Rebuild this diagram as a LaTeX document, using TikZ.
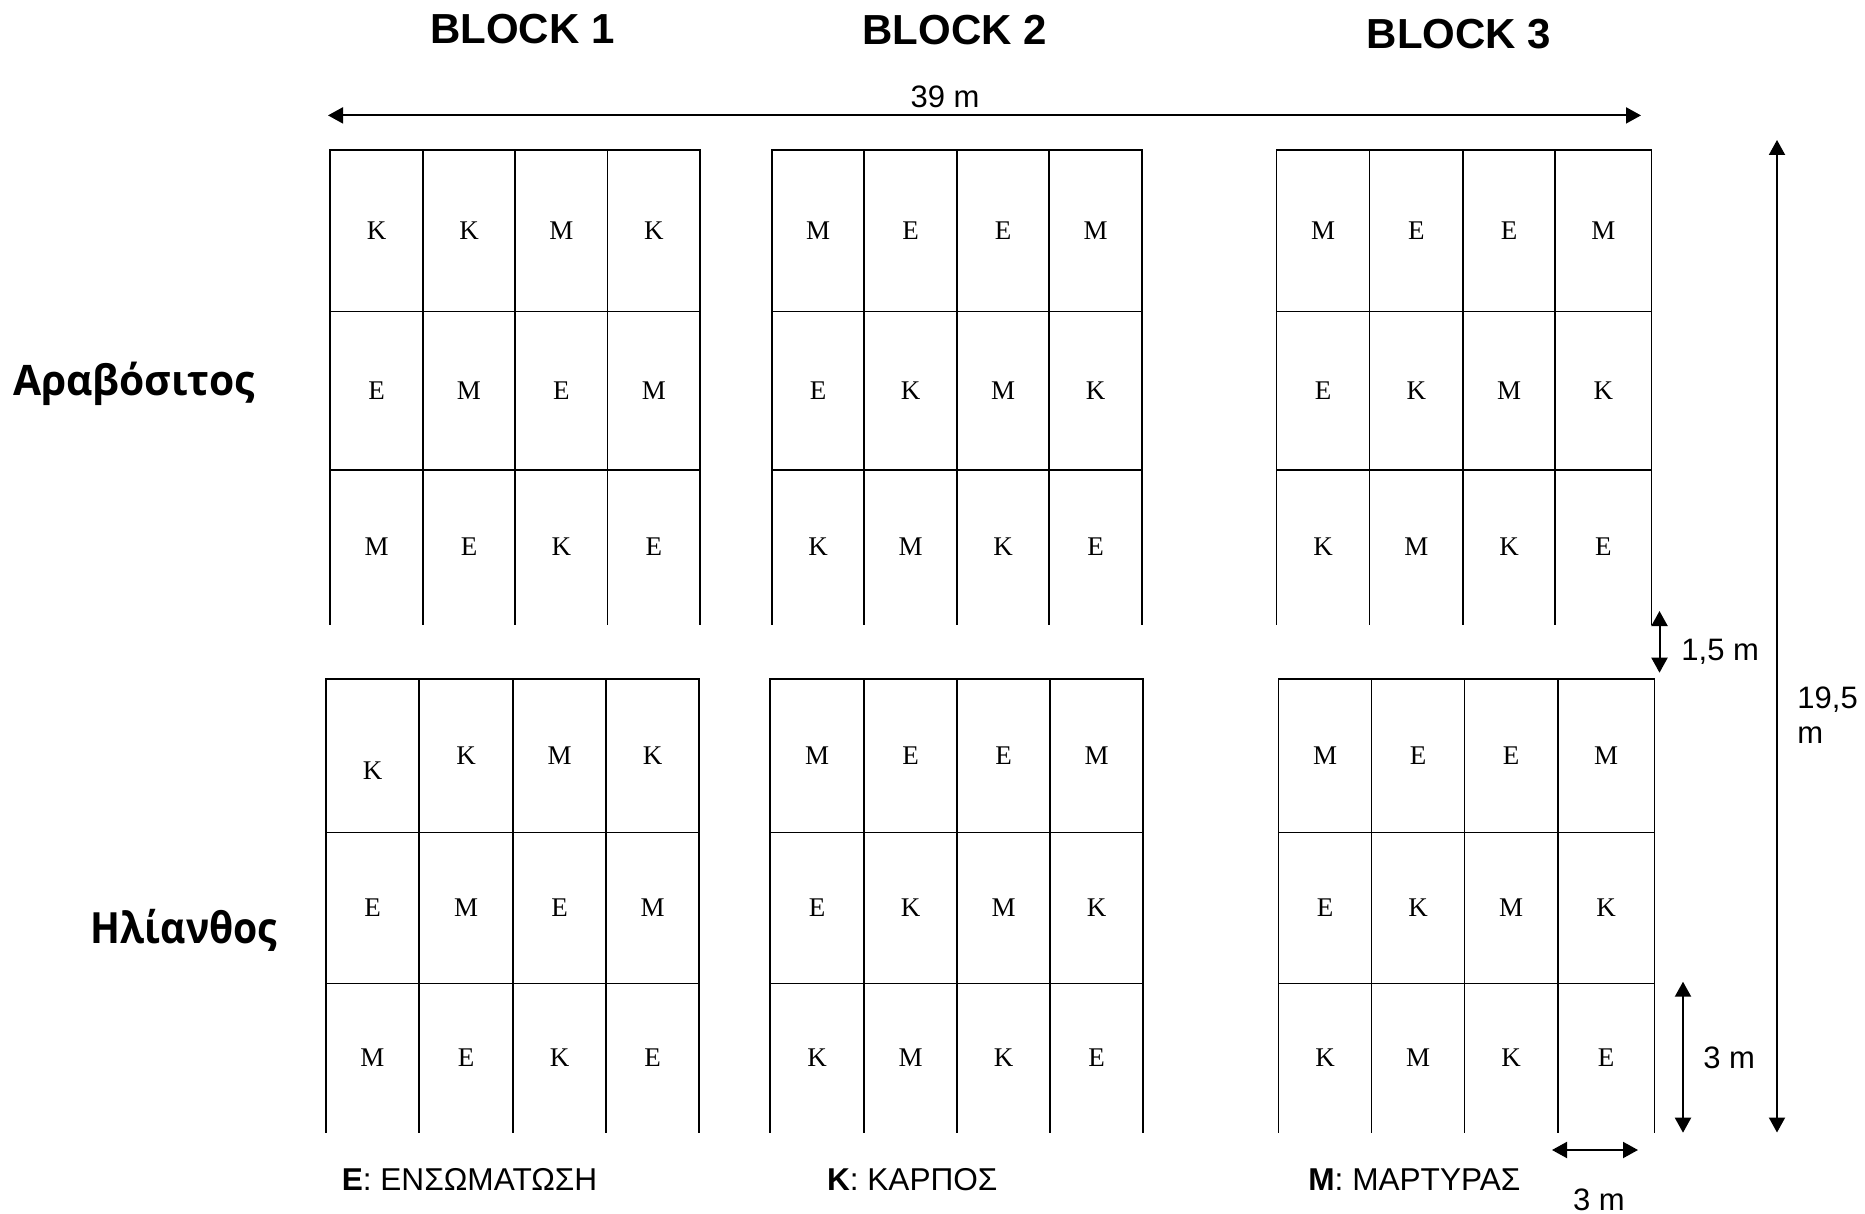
\documentclass[tikz,border=0pt]{standalone}
\usepackage{fontspec}
\setmainfont{Liberation Sans}
\newfontfamily\timesf{Liberation Serif}
\newfontfamily\opensansA{Open Sans}[FakeStretch=0.97]
\newfontfamily\opensansB{Open Sans}[FakeStretch=0.91]
\usetikzlibrary{arrows.meta}
\tikzset{
  gridline/.style={line width=0.75pt, line cap=rect},
  cellletter/.style={inner sep=0pt, font=\timesf\fontsize{13.5}{16}\selectfont},
  blocktitle/.style={inner sep=0pt, anchor=base, font=\bfseries\fontsize{21}{25}\selectfont},
  croplabel/.style={inner sep=0pt, anchor=base},
  dimtext/.style={inner sep=0pt, font=\fontsize{15.5}{18}\selectfont},
  legendtext/.style={inner sep=0pt, anchor=base west, font=\fontsize{15.8}{18}\selectfont},
  dimarrow/.style={line width=1pt, {Triangle[length=7.5pt,width=8pt]}-{Triangle[length=7.5pt,width=8pt]}},
}
% #1-#5: column x, #6 top, #7 row line 1, #8 row line 2, #9 open bottom
\newcommand{\plotgrid}[9]{%
  \draw[gridline] (#1,#9) -- (#1,#6) -- (#5,#6) -- (#5,#9);
  \draw[gridline] (#2,#6) -- (#2,#9) (#3,#6) -- (#3,#9) (#4,#6) -- (#4,#9);
  \draw[gridline] (#1,#7) -- (#5,#7) (#1,#8) -- (#5,#8);
}
\begin{document}
\begin{tikzpicture}[x=0.5pt,y=-0.5pt]
\useasboundingbox (0,0) rectangle (1865,1214);

% titles
\node[blocktitle] (b1) at (522.5,43.3) {BLOCK 1};
\node[blocktitle] (b2) at (954.7,45) {BLOCK 2};
\node[blocktitle] (b3) at (1459,48.3) {BLOCK 3};

% crop labels
\node[croplabel, font=\opensansA\bfseries\fontsize{21}{25}\selectfont] (corn) at (134,395) {Αραβόσιτος};
\node[croplabel, font=\opensansB\bfseries\fontsize{21.5}{25}\selectfont] (sun) at (184,943.3) {Ηλίανθος};

% grids, upper (corn)
\plotgrid{330}{423}{515}{607.7}{700}{150}{311.7}{470}{624.3}
\plotgrid{772}{864}{957}{1049}{1142}{150}{311.7}{470}{624.3}
\plotgrid{1276.5}{1369.6}{1463}{1555}{1651.5}{150}{311.7}{470}{624.3}
% grids, lower (sunflower)
\plotgrid{326}{419}{513}{606}{699}{679}{832.6}{983.6}{1132.7}
\plotgrid{770}{864}{957}{1050}{1143}{679}{832.6}{983.6}{1132.7}
\plotgrid{1278.6}{1371.7}{1464.5}{1558}{1654.6}{679}{832.6}{983.6}{1132.7}

% upper block 1
\foreach \xc/\t [count=\i] in {376.5/Κ,469/Κ,561.4/Μ,653.9/Κ} \node[cellletter] (ua1\i) at (\xc,231) {\t};
\foreach \xc/\t [count=\i] in {376.5/Ε,469/Μ,561.4/Ε,653.9/Μ} \node[cellletter] (ua2\i) at (\xc,391) {\t};
\foreach \xc/\t [count=\i] in {376.5/Μ,469/Ε,561.4/Κ,653.9/Ε} \node[cellletter] (ua3\i) at (\xc,547) {\t};
% upper block 2
\foreach \xc/\t [count=\i] in {818/Μ,910.5/Ε,1003/Ε,1095.5/Μ} \node[cellletter] (ub1\i) at (\xc,231) {\t};
\foreach \xc/\t [count=\i] in {818/Ε,910.5/Κ,1003/Μ,1095.5/Κ} \node[cellletter] (ub2\i) at (\xc,391) {\t};
\foreach \xc/\t [count=\i] in {818/Κ,910.5/Μ,1003/Κ,1095.5/Ε} \node[cellletter] (ub3\i) at (\xc,547) {\t};
% upper block 3
\foreach \xc/\t [count=\i] in {1323/Μ,1416.3/Ε,1509/Ε,1603.3/Μ} \node[cellletter] (uc1\i) at (\xc,231) {\t};
\foreach \xc/\t [count=\i] in {1323/Ε,1416.3/Κ,1509/Μ,1603.3/Κ} \node[cellletter] (uc2\i) at (\xc,391) {\t};
\foreach \xc/\t [count=\i] in {1323/Κ,1416.3/Μ,1509/Κ,1603.3/Ε} \node[cellletter] (uc3\i) at (\xc,547) {\t};

% lower block 1
\node[cellletter] (la11) at (372.5,770.5) {Κ};
\foreach \xc/\t [count=\i from 2] in {466/Κ,559.5/Μ,652.5/Κ} \node[cellletter] (la1\i) at (\xc,756) {\t};
\foreach \xc/\t [count=\i] in {372.5/Ε,466/Μ,559.5/Ε,652.5/Μ} \node[cellletter] (la2\i) at (\xc,908) {\t};
\foreach \xc/\t [count=\i] in {372.5/Μ,466/Ε,559.5/Κ,652.5/Ε} \node[cellletter] (la3\i) at (\xc,1058) {\t};
% lower block 2
\foreach \xc/\t [count=\i] in {817/Μ,910.5/Ε,1003.5/Ε,1096.5/Μ} \node[cellletter] (lb1\i) at (\xc,756) {\t};
\foreach \xc/\t [count=\i] in {817/Ε,910.5/Κ,1003.5/Μ,1096.5/Κ} \node[cellletter] (lb2\i) at (\xc,908) {\t};
\foreach \xc/\t [count=\i] in {817/Κ,910.5/Μ,1003.5/Κ,1096.5/Ε} \node[cellletter] (lb3\i) at (\xc,1058) {\t};
% lower block 3
\foreach \xc/\t [count=\i] in {1325/Μ,1418/Ε,1511/Ε,1606/Μ} \node[cellletter] (lc1\i) at (\xc,756) {\t};
\foreach \xc/\t [count=\i] in {1325/Ε,1418/Κ,1511/Μ,1606/Κ} \node[cellletter] (lc2\i) at (\xc,908) {\t};
\foreach \xc/\t [count=\i] in {1325/Κ,1418/Μ,1511/Κ,1606/Ε} \node[cellletter] (lc3\i) at (\xc,1058) {\t};

% dimension arrows
\coordinate (wL) at (328,115.4);
\coordinate (wR) at (1641,115.4);
\draw[dimarrow] (wL) -- (wR);
\node[dimtext, anchor=base] (w39) at (945,107.3) {39 m};

\coordinate (hT) at (1777,140);
\coordinate (hB) at (1777,1132.5);
\draw[dimarrow] (hT) -- (hB);
\node[dimtext, anchor=base west] (h195a) at (1797,708.3) {19,5};
\node[dimtext, anchor=base west] (h195b) at (1797,743.5) {m};

\coordinate (gT) at (1659.5,611);
\coordinate (gB) at (1659.5,672.7);
\draw[dimarrow] (gT) -- (gB);
\node[dimtext, anchor=base west] (g15) at (1681,660) {1,5 m};

\coordinate (pT) at (1683,981.7);
\coordinate (pB) at (1683,1132.7);
\draw[dimarrow] (pT) -- (pB);
\node[dimtext, anchor=base west] (p3) at (1703,1068.3) {3 m};

\coordinate (qL) at (1552,1150);
\coordinate (qR) at (1638,1150);
\draw[dimarrow] (qL) -- (qR);
\node[dimtext, anchor=base] (q3) at (1599,1210) {3 m};

% legend
\node[legendtext] (legE) at (341.4,1190.7) {\textbf{Ε}: ΕΝΣΩΜΑΤΩΣΗ};
\node[legendtext] (legK) at (826.6,1190.7) {\textbf{Κ}: ΚΑΡΠΟΣ};
\node[legendtext] (legM) at (1308,1190.7) {\textbf{Μ}: ΜΑΡΤΥΡΑΣ};
\end{tikzpicture}
\end{document}
